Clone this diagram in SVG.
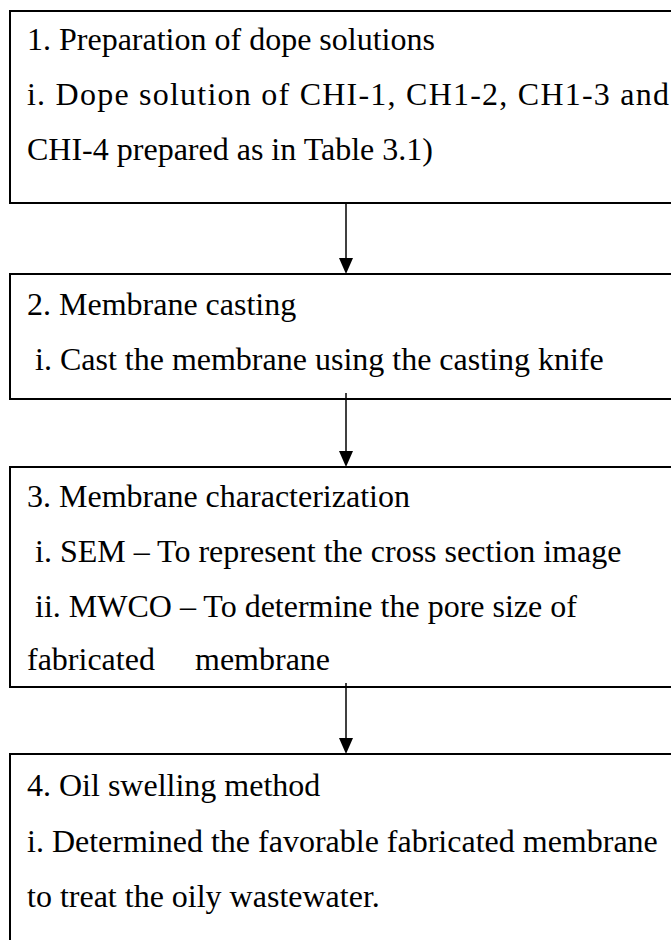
<svg xmlns="http://www.w3.org/2000/svg" width="671" height="940" viewBox="0 0 671 940">
<style>
.box{fill:#fff;stroke:#000;stroke-width:2}
.t{font-family:"Liberation Serif","Times New Roman",serif;font-size:32px;fill:#000}
.c{stroke:#000;stroke-width:1.5;fill:none}
</style>
<rect width="671" height="940" fill="#fff"/>
<g id="step1">
<rect class="box" x="10" y="11" width="700" height="192"/>
<text class="t" x="27" y="50">1. Preparation of dope solutions</text>
<text class="t" x="27" y="105" textLength="642" lengthAdjust="spacing">i. Dope solution of CHI-1, CH1-2, CH1-3 and</text>
<text class="t" x="27" y="160">CHI-4 prepared as in Table 3.1)</text>
</g>
<g id="step2">
<rect class="box" x="10" y="274" width="700" height="125"/>
<text class="t" x="27" y="315">2. Membrane casting</text>
<text class="t" x="27" y="370" xml:space="preserve"> i. Cast the membrane using the casting knife</text>
</g>
<g id="step3">
<rect class="box" x="10" y="467" width="700" height="220"/>
<text class="t" x="27" y="507">3. Membrane characterization</text>
<text class="t" x="27" y="562" xml:space="preserve"> i. SEM – To represent the cross section image</text>
<text class="t" x="27" y="617" xml:space="preserve"> ii. MWCO – To determine the pore size of</text>
<text class="t" x="27" y="670">fabricated<tspan x="195">membrane</tspan></text>
</g>
<g id="step4">
<rect class="box" x="10" y="754" width="700" height="220"/>
<text class="t" x="27" y="796">4. Oil swelling method</text>
<text class="t" x="27" y="852">i. Determined the favorable fabricated membrane</text>
<text class="t" x="27" y="907">to treat the oily wastewater.</text>
</g>
<g id="connectors">
<line class="c" x1="346" y1="203" x2="346" y2="260"/>
<path d="M339,258 L353,258 L346,274 Z" fill="#000"/>
<line class="c" x1="346" y1="393" x2="346" y2="453"/>
<path d="M339,451 L353,451 L346,467 Z" fill="#000"/>
<line class="c" x1="346" y1="683" x2="346" y2="740"/>
<path d="M339,738 L353,738 L346,754 Z" fill="#000"/>
</g>
</svg>
